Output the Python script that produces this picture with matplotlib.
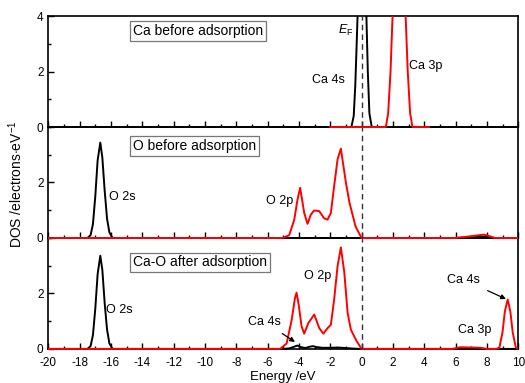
import matplotlib
matplotlib.use('Agg')
import matplotlib.pyplot as plt
from matplotlib.patches import Rectangle
from matplotlib.ticker import MultipleLocator

plt.rcParams['font.family'] = ['Liberation Sans', 'DejaVu Sans']
plt.rcParams['mathtext.fontset'] = 'custom'
plt.rcParams['mathtext.rm'] = 'Liberation Sans'
plt.rcParams['mathtext.it'] = 'Liberation Sans:italic'
plt.rcParams['axes.unicode_minus'] = False

# ---- data (energy in eV, DOS in electrons/eV) ----
# panel 1: Ca before adsorption
ca_s_x = [-20, -0.65, -0.5, -0.4, -0.3, -0.2, -0.1, 0.05, 0.2, 0.3, 0.4, 0.5, 0.65, 10]
ca_s_y = [0, 0, 0.4, 1.5, 3.2, 5.0, 6.5, 7.0, 6.0, 4.2, 2.0, 0.5, 0, 0]
ca_p_x = [-2.0, 1.55, 1.7, 1.85, 2.0, 2.2, 2.4, 2.6, 2.8, 2.95, 3.1, 3.25, 4.3]
ca_p_y = [0, 0, 0.5, 2.0, 4.3, 7.0, 8.0, 7.0, 4.2, 2.0, 0.5, 0, 0]

# panel 2: O before adsorption
o_s_x = [-20, -17.5, -17.3, -17.15, -17.0, -16.85, -16.68, -16.55, -16.4, -16.25, -16.1, -15.9,
         6.0, 7.0, 7.8, 8.5, 10]
o_s_y = [0, 0, 0.1, 0.5, 1.5, 2.8, 3.44, 2.9, 1.7, 0.7, 0.2, 0,
         0, 0.02, 0.05, 0, 0]
o_p_x = [-20, -5.05, -4.62, -4.3, -4.09, -3.92, -3.66, -3.45, -3.24, -3.03, -2.71, -2.39, -2.17,
         -1.96, -1.75, -1.53, -1.32, -1.0, -0.77, -0.38, 0.0, 6.0, 6.8, 7.5, 7.8, 8.1, 8.5, 10]
o_p_y = [0, 0, 0.1, 0.65, 1.38, 1.81, 0.9, 0.51, 0.84, 0.99, 0.97, 0.71, 0.66,
         0.9, 1.87, 2.84, 3.22, 2.0, 1.27, 0.41, 0, 0, 0.05, 0.1, 0.12, 0.08, 0, 0]

# panel 3: Ca-O after adsorption
ab_s_x = [-20, -17.5, -17.3, -17.15, -17.0, -16.85, -16.68, -16.55, -16.4, -16.25, -16.1, -15.9,
          -5.0, -4.6, -4.3, -4.1, -3.9, -3.6, -3.3, -3.1, -2.9, -2.5, -2.0, -1.5, -1.0, -0.5, 0, 10]
ab_s_y = [0, 0, 0.1, 0.5, 1.45, 2.7, 3.36, 2.85, 1.65, 0.7, 0.2, 0,
          0, 0.02, 0.08, 0.12, 0.07, 0.03, 0.08, 0.1, 0.07, 0.04, 0.04, 0.05, 0.03, 0.01, 0, 0]
ab_p_x = [-20, -5.2, -4.78, -4.46, -4.25, -4.15, -4.0, -3.83, -3.66, -3.4, -3.02, -2.7, -2.44,
          -2.17, -1.96, -1.75, -1.53, -1.32, -1.1, -0.89, -0.68, -0.36, 0.0,
          5.8, 6.3, 7.0, 7.6, 8.0, 8.6, 8.8, 9.0, 9.15, 9.33, 9.5, 9.65, 9.85, 10]
ab_p_y = [0, 0, 0.2, 1.05, 1.84, 2.03, 1.54, 0.81, 0.55, 0.93, 1.24, 0.75, 0.55,
          0.75, 0.87, 1.78, 2.99, 3.66, 2.75, 1.3, 0.69, 0.33, 0,
          0, 0.06, 0.05, 0.04, 0, 0, 0.05, 0.6, 1.35, 1.78, 1.35, 0.6, 0.05, 0]

titles = ['Ca before adsorption', 'O before adsorption', 'Ca-O after adsorption']
title_y = [3.46, 3.32, 3.12]

fig, axes = plt.subplots(3, 1, figsize=(5.25, 3.83), dpi=100, sharex=True)
fig.subplots_adjust(left=0.092, right=0.987, top=0.958, bottom=0.089, hspace=0)

curves = [[(ca_s_x, ca_s_y, 'black'), (ca_p_x, ca_p_y, 'red')],
          [(o_s_x, o_s_y, 'black'), (o_p_x, o_p_y, 'red')],
          [(ab_s_x, ab_s_y, 'black'), (ab_p_x, ab_p_y, 'red')]]

for i, ax in enumerate(axes):
    # upper panels on top so their baselines are not hidden by the next panel
    ax.set_zorder(3 - i)
    ax.patch.set_visible(False)
    for xs, ys, c in curves[i]:
        line, = ax.plot(xs, ys, color=c, lw=1.4, zorder=3)
        line.set_clip_path(Rectangle((0, -0.05), 1, 1.05, transform=ax.transAxes))
    ax.axvline(0, color='#333333', lw=1.0, ls=(0, (4, 3)), zorder=4)
    ax.set_xlim(-20, 10)
    ax.set_ylim(0, 4)
    if i == 0:
        ax.set_yticks([0, 2, 4])
    else:
        ax.set_yticks([0, 2])
    ax.yaxis.set_minor_locator(MultipleLocator(1))
    ax.xaxis.set_major_locator(MultipleLocator(2))
    ax.xaxis.set_minor_locator(MultipleLocator(1))
    ax.tick_params(which='both', direction='in', top=False, right=False, labelsize=8.5, width=1)
    ax.tick_params(which='major', length=4)
    ax.tick_params(which='minor', length=2)
    ax.tick_params(axis='x', pad=6)
    for s in ax.spines.values():
        s.set_linewidth(1.2)
    ax.text(-14.6, title_y[i], titles[i], fontsize=10, va='center', ha='left',
            bbox=dict(boxstyle='square,pad=0.2', fc='white', ec='#777777', lw=0.9))

# labels, panel 1
axes[0].text(-1.0, 3.5, r'$E_{\rm F}$', fontsize=9, ha='center', va='center')
axes[0].text(-2.1, 1.68, 'Ca 4s', fontsize=9, ha='center', va='center')
axes[0].text(3.0, 2.21, 'Ca 3p', fontsize=9, ha='left', va='center')

# labels, panel 2
axes[1].text(-16.1, 1.48, 'O 2s', fontsize=9, ha='left', va='center')
axes[1].text(-5.2, 1.32, 'O 2p', fontsize=9, ha='center', va='center')

# labels, panel 3
axes[2].text(-16.3, 1.42, 'O 2s', fontsize=9, ha='left', va='center')
axes[2].text(-2.8, 2.63, 'O 2p', fontsize=9, ha='center', va='center')
axes[2].text(7.2, 0.69, 'Ca 3p', fontsize=9, ha='center', va='center')
axes[2].annotate('Ca 4s', xy=(-4.25, 0.25), xytext=(-6.2, 0.98), fontsize=9,
                 ha='center', va='center',
                 arrowprops=dict(arrowstyle='-|>', color='black', lw=0.9,
                                 mutation_scale=7, shrinkA=4, shrinkB=0))
axes[2].annotate('Ca 4s', xy=(9.22, 1.8), xytext=(6.5, 2.5), fontsize=9,
                 ha='center', va='center',
                 arrowprops=dict(arrowstyle='-|>', color='black', lw=0.9,
                                 mutation_scale=7, shrinkA=4, shrinkB=0))

axes[2].set_xlabel('Energy /eV', fontsize=9.5, labelpad=1)
fig.text(0.03, 0.52, r'DOS /electrons$\cdot$eV$^{-1}$', rotation=90, fontsize=10,
         ha='center', va='center')

fig.savefig('out.png', dpi=100)
